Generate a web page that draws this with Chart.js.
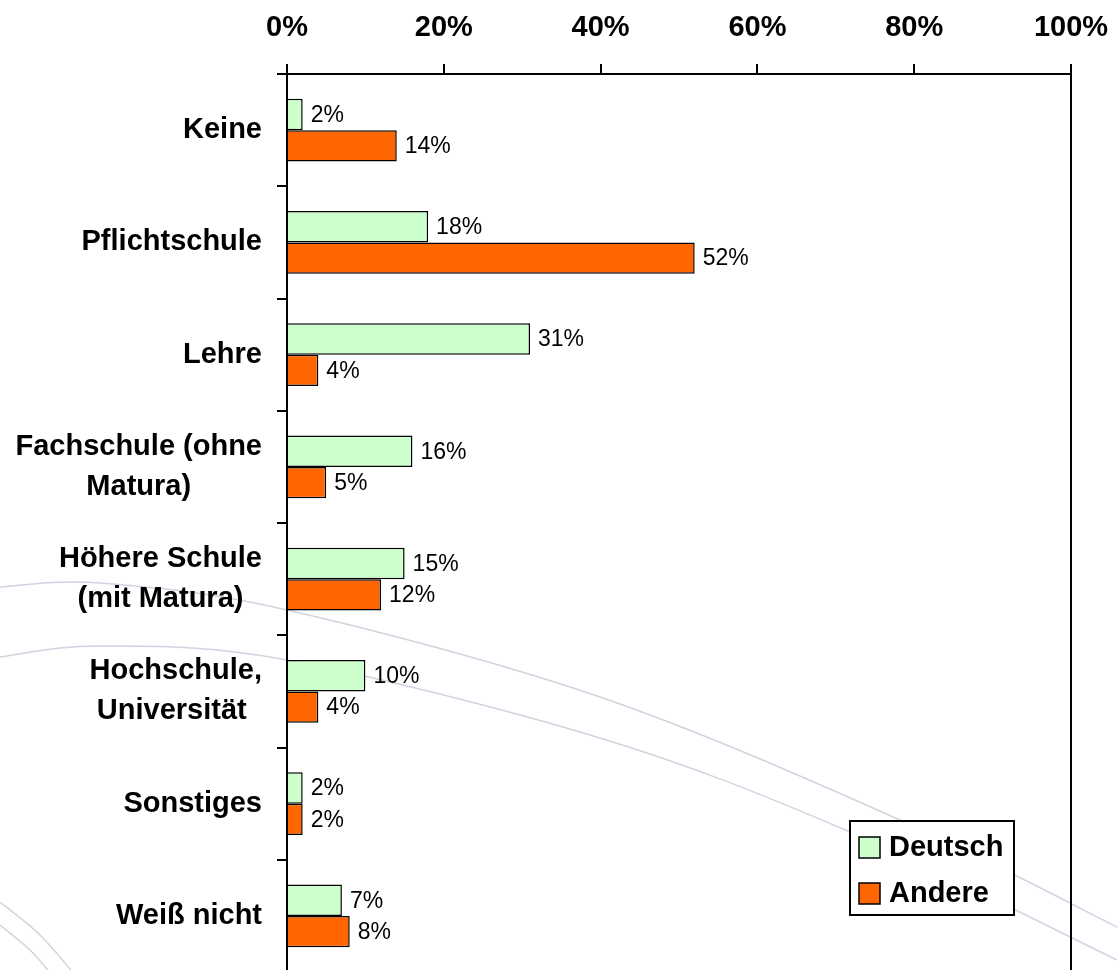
<!DOCTYPE html>
<html>
<head>
<meta charset="utf-8">
<script src="https://cdn.jsdelivr.net/npm/chart.js@4/dist/chart.umd.min.js"></script>
<style>
  html, body { margin: 0; padding: 0; overflow: hidden; background: #fff; }
  #wrap { width: 1117px; height: 975px; }
</style>
</head>
<body>
<div id="wrap"><canvas id="chart" width="1117" height="975"></canvas></div>
<script>
// --- Daten ---
const categories = [
  "Keine",
  "Pflichtschule",
  "Lehre",
  ["Fachschule (ohne", "Matura)"],
  ["Höhere Schule", "(mit Matura)"],
  ["Hochschule,", "Universität "],
  "Sonstiges",
  "Weiß nicht"
];
const deutsch = [2, 18, 31, 16, 15, 10, 2, 7];
const andere  = [14, 52, 4, 5, 12, 4, 2, 8];
const xTicks  = [0, 20, 40, 60, 80, 100];

const FONT = "'Liberation Sans', Arial, sans-serif";

// Hintergrund mit den hellen Bögen
const backgroundPlugin = {
  id: "bg",
  beforeDraw(chart) {
    const ctx = chart.ctx;
    ctx.save();
    ctx.fillStyle = "#fff";
    ctx.fillRect(0, 0, chart.width, chart.height);
    ctx.strokeStyle = "rgba(178,184,204,0.6)";
    ctx.lineWidth = 1.5;
    const curve = pts => {
      ctx.beginPath();
      ctx.moveTo(pts[0][0], pts[0][1]);
      for (let i = 0; i < pts.length - 1; i++) {
        const p0 = pts[i - 1] || pts[i], p1 = pts[i], p2 = pts[i + 1], p3 = pts[i + 2] || p2;
        ctx.bezierCurveTo(
          p1[0] + (p2[0] - p0[0]) / 6, p1[1] + (p2[1] - p0[1]) / 6,
          p2[0] - (p3[0] - p1[0]) / 6, p2[1] - (p3[1] - p1[1]) / 6,
          p2[0], p2[1]);
      }
      ctx.stroke();
    };
    curve([[0, 587], [100, 583], [287, 610], [600, 697], [900, 820], [1117, 927]]);
    curve([[0, 657], [100, 646], [287, 660], [600, 738], [850, 832], [1117, 960]]);
    curve([[0, 902], [40, 935], [75, 975]]);
    curve([[0, 925], [30, 950], [52, 975]]);
    ctx.restore();
  }
};

// Kategorienbeschriftung: Block rechtsbündig, Zeilen zentriert
const yLabelsPlugin = {
  id: "ylabels",
  afterDraw(chart) {
    const ctx = chart.ctx;
    const y = chart.scales.y;
    ctx.save();
    ctx.font = "bold 29px " + FONT;
    ctx.fillStyle = "#000";
    ctx.textAlign = "center";
    ctx.textBaseline = "middle";
    const right = chart.chartArea.left - 25;
    const lh = 40;
    chart.data.labels.forEach((lab, i) => {
      const lines = Array.isArray(lab) ? lab : [lab];
      const widest = Math.max(...lines.map(l => ctx.measureText(l).width));
      const cx = right - widest / 2;
      const cy = y.getPixelForValue(i);
      lines.forEach((l, j) => {
        ctx.fillText(l, cx, cy + (j - (lines.length - 1) / 2) * lh);
      });
    });
    ctx.restore();
  }
};

// Wertebeschriftung und rechter Rahmen
const valuePlugin = {
  id: "values",
  afterDatasetsDraw(chart) {
    const ctx = chart.ctx;
    const a = chart.chartArea;
    ctx.save();
    ctx.strokeStyle = "#000";
    ctx.lineWidth = 2;
    ctx.beginPath();
    ctx.moveTo(a.right, a.top);
    ctx.lineTo(a.right, a.bottom);
    ctx.stroke();
    ctx.font = "23px " + FONT;
    ctx.fillStyle = "#000";
    ctx.textAlign = "left";
    ctx.textBaseline = "middle";
    chart.data.datasets.forEach((ds, di) => {
      chart.getDatasetMeta(di).data.forEach((bar, i) => {
        ctx.fillText(ds.data[i] + "%", bar.x + 8, bar.y + 1);
      });
    });
    ctx.restore();
  }
};

// Legende im Rahmen unten rechts
const legendPlugin = {
  id: "boxlegend",
  afterDraw(chart) {
    const ctx = chart.ctx;
    const x = 850, y = 821, w = 164, h = 94;
    ctx.save();
    ctx.fillStyle = "#fff";
    ctx.fillRect(x, y, w, h);
    ctx.strokeStyle = "#000";
    ctx.lineWidth = 2;
    ctx.strokeRect(x, y, w, h);
    ctx.font = "bold 29px " + FONT;
    ctx.textBaseline = "middle";
    ctx.textAlign = "left";
    chart.data.datasets.forEach((ds, i) => {
      const cy = 847 + i * 46;
      ctx.fillStyle = ds.backgroundColor;
      ctx.fillRect(859, cy - 10, 21, 21);
      ctx.lineWidth = 1.5;
      ctx.strokeRect(859, cy - 10, 21, 21);
      ctx.fillStyle = "#000";
      ctx.fillText(ds.label, 889, cy + 1);
    });
    ctx.restore();
  }
};

new Chart(document.getElementById("chart"), {
  type: "bar",
  data: {
    labels: categories,
    datasets: [
      { label: "Deutsch", data: deutsch, backgroundColor: "#CCFFCC", borderColor: "#000", borderWidth: 1.5 },
      { label: "Andere", data: andere, backgroundColor: "#FF6600", borderColor: "#000", borderWidth: 1.5 }
    ]
  },
  options: {
    indexAxis: "y",
    responsive: false,
    animation: false,
    layout: { padding: { left: 0, right: 46, top: 0, bottom: 3 } },
    datasets: { bar: { barPercentage: 1, categoryPercentage: 0.56 } },
    plugins: { legend: { display: false }, tooltip: { enabled: false } },
    scales: {
      x: {
        position: "top",
        min: 0, max: 100,
        afterBuildTicks: s => { s.ticks = xTicks.map(v => ({ value: v })); },
        afterFit: s => { s.height = 74; s.paddingLeft = 0; s.paddingRight = 0; },
        ticks: {
          callback: v => v + "%",
          color: "#000",
          font: { family: FONT, size: 29, weight: "bold" },
          padding: 19,
          maxRotation: 0
        },
        grid: { drawOnChartArea: false, tickLength: 10, color: "#000", lineWidth: 2 },
        border: { display: true, color: "#000", width: 2 }
      },
      y: {
        afterFit: s => { s.width = 287; },
        ticks: { display: false },
        grid: { drawOnChartArea: false, tickLength: 10, color: "#000", lineWidth: 2, offset: true },
        border: { display: true, color: "#000", width: 2 }
      }
    }
  },
  plugins: [backgroundPlugin, valuePlugin, yLabelsPlugin, legendPlugin]
});
</script>
</body>
</html>
